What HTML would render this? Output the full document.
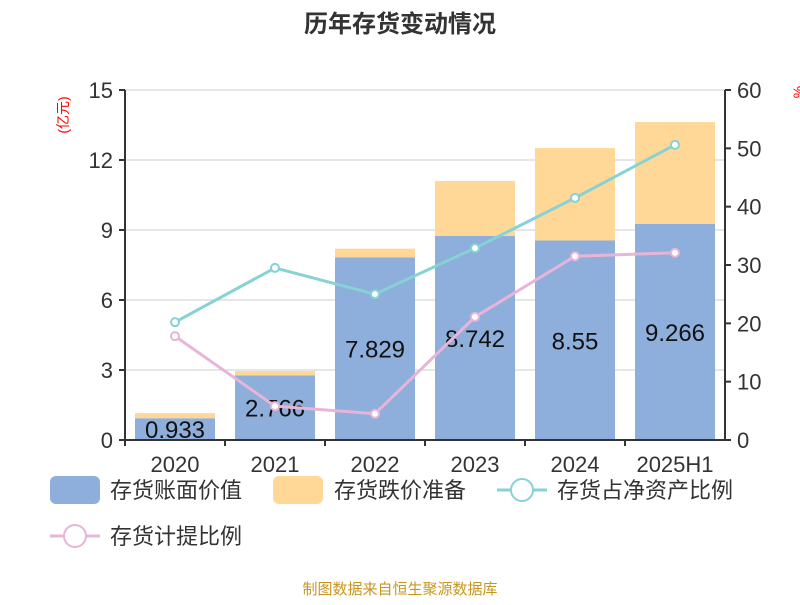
<!DOCTYPE html>
<html><head><meta charset="utf-8"><style>
body{margin:0;background:#fff;font-family:"Liberation Sans","Noto Sans CJK SC",sans-serif}
</style></head><body>
<svg id="c" width="800" height="600" xmlns="http://www.w3.org/2000/svg" font-family="Liberation Sans, Noto Sans CJK SC, sans-serif">
<text x="400" y="32" text-anchor="middle" font-size="24" font-weight="bold" fill="#333">历年存货变动情况</text>
<text transform="translate(68,115) rotate(-90)" text-anchor="middle" font-size="14" fill="red">(亿元)</text>
<text transform="translate(803,92) rotate(-90)" text-anchor="middle" font-size="14" fill="red">%</text>
<g id="grid"></g><g id="bars"></g><g id="axes"></g><g id="lines"></g>
<g>
<rect x="50" y="476" width="50" height="28" rx="6" fill="#8eaedb"/>
<text x="110" y="498" font-size="22" fill="#333">存货账面价值</text>
<rect x="273" y="476" width="50" height="28" rx="6" fill="#ffd898"/>
<text x="334" y="498" font-size="22" fill="#333">存货跌价准备</text>
<line x1="497" y1="490" x2="547" y2="490" stroke="#86d2d4" stroke-width="3"/>
<circle cx="522" cy="490" r="11" fill="#fff" stroke="#86d2d4" stroke-width="2"/>
<text x="557" y="498" font-size="22" fill="#333">存货占净资产比例</text>
<line x1="50" y1="536" x2="100" y2="536" stroke="#e8b5d8" stroke-width="3"/>
<circle cx="75" cy="536" r="11" fill="#fff" stroke="#e8b5d8" stroke-width="2"/>
<text x="110" y="544" font-size="22" fill="#333">存货计提比例</text>
</g>
<text x="400" y="594" text-anchor="middle" font-size="15" fill="#c8961e">制图数据来自恒生聚源数据库</text>
</svg>
<script>
const categories=["2020","2021","2022","2023","2024","2025H1"];
const bookValues=[0.933,2.766,7.829,8.742,8.55,9.266];
const reserveValues=[0.22,0.19,0.37,2.36,3.96,4.36];
const netAssetRatio=[20.2,29.5,25.0,32.9,41.5,50.6];
const provisionRatio=[17.8,5.8,4.5,21.1,31.5,32.1];
const leftTicks=[0,3,6,9,12,15];
const rightTicks=[0,10,20,30,40,50,60];
const NS="http://www.w3.org/2000/svg";
const L=125,R=725,T=90,B=440;
const yL=v=>B-v/15*(B-T), yR=v=>B-v/60*(B-T);
const band=(R-L)/categories.length, xC=i=>L+band*(i+0.5);
function mk(p,tag,a){const e=document.createElementNS(NS,tag);for(const k in a)e.setAttribute(k,a[k]);document.getElementById(p).appendChild(e);return e;}
leftTicks.forEach(t=>{
 const g=mk("grid","line",{x1:L,x2:R,y1:yL(t),y2:yL(t),stroke:"#ccc","stroke-width":1});
 
 
 const tx=mk("axes","text",{x:L-12,y:yL(t)+8,"text-anchor":"end","font-size":22,fill:"#333"});tx.textContent=t;
 
 
 mk("axes","line",{x1:L-6,x2:L,y1:yL(t),y2:yL(t),stroke:"#333","stroke-width":2});
});
rightTicks.forEach(t=>{
 const tx=mk("axes","text",{x:R+12,y:yR(t)+8,"font-size":22,fill:"#333"});tx.textContent=t;
 
 
 mk("axes","line",{x1:R,x2:R+6,y1:yR(t),y2:yR(t),stroke:"#333","stroke-width":2});
});
mk("axes","line",{x1:L,x2:L,y1:T,y2:B,stroke:"#333","stroke-width":2});
mk("axes","line",{x1:R,x2:R,y1:T,y2:B,stroke:"#333","stroke-width":2});
mk("axes","line",{x1:L,x2:R,y1:B,y2:B,stroke:"#333","stroke-width":2});
categories.forEach((c,i)=>{
 const bw=80,x=xC(i)-bw/2;
 const b=mk("bars","rect",{x:x,y:yL(bookValues[i]),width:bw,height:B-yL(bookValues[i]),fill:"#8eaedb"});
 
 
 const top=bookValues[i]+reserveValues[i];
 const r=mk("bars","rect",{x:x,y:yL(top),width:bw,height:yL(bookValues[i])-yL(top),fill:"#ffd898"});
 
 
 const lb=mk("lines","text",{x:xC(i),y:Math.min(yL(bookValues[i]/2),B-5)+9,"text-anchor":"middle","font-size":24,fill:"#111"});
 lb.textContent=bookValues[i];
 
 
 mk("axes","line",{x1:L+band*i,x2:L+band*i,y1:B,y2:B+6,stroke:"#333","stroke-width":2});
 const ct=mk("axes","text",{x:xC(i),y:B+32,"text-anchor":"middle","font-size":22,fill:"#333"});ct.textContent=c;
 
 
});
function series(vals,color,name){
 const p=mk("lines","polyline",{points:vals.map((v,i)=>xC(i)+","+yR(v)).join(" "),fill:"none",stroke:color,"stroke-width":3});
 
 
 vals.forEach((v,i)=>{const c=mk("lines","circle",{cx:xC(i),cy:yR(v),r:4,fill:"#fff",stroke:color,"stroke-width":2});
 
 });
}
series(netAssetRatio,"#86d2d4","net-asset-ratio");
series(provisionRatio,"#e8b5d8","provision-ratio");
</script>
</body></html>
